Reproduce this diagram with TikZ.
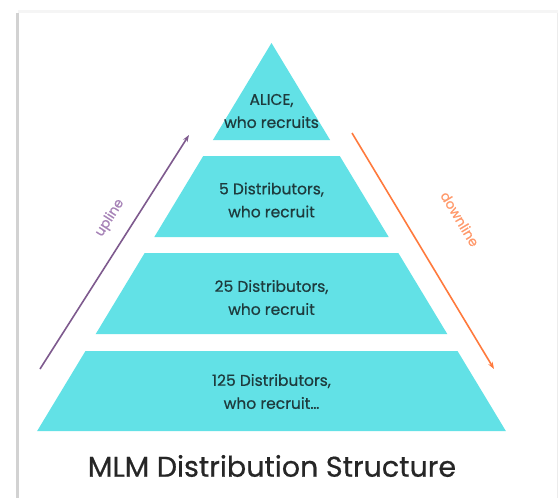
\documentclass[tikz,border=0pt]{standalone}
\usepackage{fontspec}
\setmainfont{Poppins}[FakeBold=0.6]
\usetikzlibrary{arrows.meta}
\definecolor{tealfill}{HTML}{62E1E6}
\definecolor{upcol}{HTML}{7E5A8E}
\definecolor{uptext}{HTML}{A783B8}
\definecolor{downcol}{HTML}{FF7A3D}
\definecolor{downtext}{HTML}{FF9A6C}
\definecolor{inktext}{HTML}{1E3B3D}
\tikzset{
    tier/.style = {fill=tealfill,draw=none},
    tiertext/.style = {align=center,text=inktext,font=\fontsize{15.5}{23}\selectfont,inner sep=0pt},
    edgeup/.style = {-{Stealth[length=7pt,width=5pt]},line width=1.6pt,upcol},
    edgedown/.style = {-{Stealth[length=7pt,width=5pt]},line width=1.6pt,downcol},
    sidelabel/.style = {font=\fontsize{13.5}{16}\selectfont,inner sep=0pt},
}
\begin{document}
\begin{tikzpicture}[x=1pt,y=-1pt]
\useasboundingbox (0,0) rectangle (558,498);
\fill[white] (0,0) rectangle (558,498);
% card and its shadow
\fill[gray!8] (18,10) rectangle (558,13);
\fill[gray!35] (15.5,13) rectangle (19,498);
\fill[gray!15] (556.5,13) rectangle (558,498);
\fill[white] (19,13) rectangle (556.5,498);
% pyramid tiers: apex (271.5,43), half width 0.604 per px of depth
\fill[tier] (271.5,43) -- (330.1,140) -- (212.9,140) -- cycle;
\foreach \ytop/\ybot in {156/237, 253/334, 351/431}{
  \fill[tier] ({271.5-(\ytop-43)*0.604},\ytop) -- ({271.5+(\ytop-43)*0.604},\ytop)
    -- ({271.5+(\ybot-43)*0.604},\ybot) -- ({271.5-(\ybot-43)*0.604},\ybot) -- cycle;
}
% tier labels
\node[tiertext] at (271.5,111) (alice) {ALICE,\\who recruits};
\node[tiertext] at (271.5,200) (five) {5 Distributors,\\who recruit};
\node[tiertext] at (271.5,297.5) (twentyfive) {25 Distributors,\\who recruit};
\node[tiertext] at (271.5,391.5) (hundred) {125 Distributors,\\who recruit\ldots};
% upline and downline
\coordinate (upstart) at (40,369);
\coordinate (upend) at (189,135);
\coordinate (downstart) at (352,133);
\coordinate (downend) at (494,369);
\draw[edgeup] (upstart) -- (upend);
\draw[edgedown] (downstart) -- (downend);
\node[sidelabel,text=uptext,rotate=57.5] at (110,218) (up) {upline};
\node[sidelabel,text=downtext,rotate=-59] at (460,219) (down) {downline};
% title
\node[font=\fontsize{28.5}{32}\selectfont,text=black!85] at (272,466) (title) {MLM Distribution Structure};
\end{tikzpicture}
\end{document}
